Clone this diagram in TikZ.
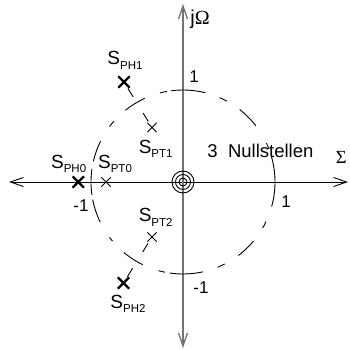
\documentclass[tikz,border=0pt]{standalone}
\usepackage{fontspec}
\setmainfont{Liberation Sans}
\newfontfamily\grfont{Liberation Serif}
\usetikzlibrary{arrows.meta,shapes.misc}
\newcommand{\tief}[1]{\raisebox{-4.5pt}{\fontsize{11.5}{12}\selectfont #1}}

\begin{document}
\begin{tikzpicture}[x=1pt,y=-1pt,line width=0.9pt,
  beschr/.style={inner sep=0pt,anchor=base west,font=\fontsize{17}{17}\selectfont},
  sname/.style={inner sep=0pt,anchor=base west,font=\fontsize{19}{19}\selectfont},
  pol/.style={draw,cross out,minimum size=9pt,inner sep=0pt,line width=2.3pt},
  punkt/.style={draw,cross out,minimum size=8.5pt,inner sep=0pt,line width=0.8pt},
  stiel/.style={shorten <=7.5pt,shorten >=7pt,dash pattern=on 10pt off 19pt on 10pt off 30pt},
  spitze/.style={{Straight Barb[length=13pt,width=9pt]}-{Straight Barb[length=13pt,width=9pt]}}]
  \useasboundingbox (0,0) rectangle (349,350);
  % Achsen
  \coordinate (o) at (183,182);
  \coordinate (xl) at (9,182);  \coordinate (xr) at (348,182);
  \coordinate (yo) at (183,4);  \coordinate (yu) at (183,348);
  \draw[spitze] (xl) -- (xr);
  \draw[spitze,black!55,line width=1.3pt] (yu) -- (yo);
  \node[inner sep=0pt,anchor=base west,font=\fontsize{20}{20}\selectfont] (jw) at (190,25) {j{\grfont Ω}};
  \node[inner sep=0pt,anchor=base west,font=\fontsize{18.5}{19}\selectfont\grfont] (sig) at (335.5,163) {Σ};
  % Einheitskreis
  \foreach \a/\b in {-15.5/16, 21/25, 37.6/52, 61.5/66.5, 76/97.5, 100/104.5,
      114.6/128.8, 138.6/143, 153.6/167, 172/188, 191/206, 217/220,
      230/244, 254.5/258.7, 262/282.4, 292/297, 307/320, 330/334.5}
    \draw (o) ++(\a:92pt) arc[start angle=\a,end angle=\b,radius=92pt];
  \node[beschr] (e1) at (189,83) {1};
  \node[beschr] (e2) at (281,207.5) {1};
  \node[beschr] (e3) at (73,211.7) {-1};
  \node[beschr] (e4) at (193,293) {-1};
  % dreifache Nullstelle
  \draw (o) circle (4pt) (o) circle (7.5pt) (o) circle (11pt);
  \node[inner sep=0pt,anchor=base west,font=\fontsize{18.5}{19}\selectfont] (nst) at (207,157.3) {3\ \ Nullstellen};
  % Pole und Punkte
  \node[pol] (ph0) at (78.3,182) {};
  \node[pol] (ph1) at (124,82) {};
  \node[pol] (ph2) at (123.5,283) {};
  \node[punkt] (pt0) at (106,182) {};
  \node[punkt] (pt1) at (152,127.5) {};
  \node[punkt] (pt2) at (152,237) {};
  \draw[stiel] (ph1.center) -- (pt1.center);
  \draw[stiel] (ph2.center) -- (pt2.center);
  \node[sname] (lph1) at (107,65) {S\tief{PH1}};
  \node[sname] (lpt1) at (138.3,153.3) {S\tief{PT1}};
  \node[sname] (lph0) at (50.7,168.3) {S\tief{PH0}};
  \node[sname] (lpt0) at (97.7,168.3) {S\tief{PT0}};
  \node[sname] (lpt2) at (138.3,221.7) {S\tief{PT2}};
  \node[sname] (lph2) at (110,308.3) {S\tief{PH2}};
\end{tikzpicture}
\end{document}
